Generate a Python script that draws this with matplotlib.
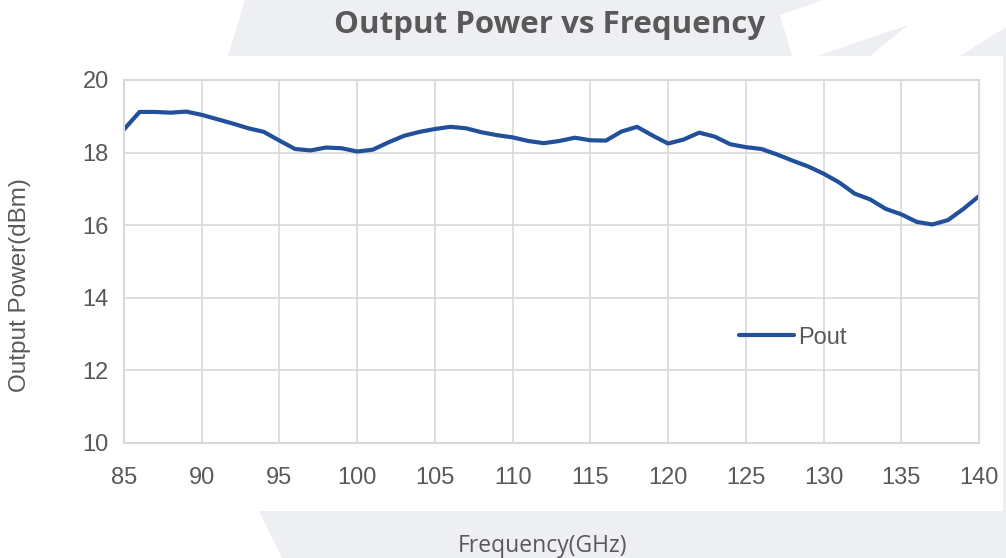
import matplotlib.pyplot as plt
from matplotlib.patches import Polygon
import numpy as np

freq = np.arange(85, 141)
pout = [18.64, 19.12, 19.12, 19.10, 19.13, 19.04, 18.92, 18.80, 18.67, 18.57,
        18.33, 18.10, 18.06, 18.14, 18.12, 18.03, 18.08, 18.28, 18.46, 18.57,
        18.65, 18.71, 18.67, 18.56, 18.48, 18.42, 18.32, 18.26, 18.32, 18.41,
        18.34, 18.33, 18.58, 18.71, 18.47, 18.25, 18.36, 18.55, 18.44, 18.23,
        18.15, 18.10, 17.95, 17.78, 17.62, 17.42, 17.18, 16.87, 16.71, 16.45,
        16.30, 16.09, 16.02, 16.14, 16.45, 16.80]
xticks = [85, 90, 95, 100, 105, 110, 115, 120, 125, 130, 135, 140]
yticks = [10, 12, 14, 16, 18, 20]

W, H = 1006, 558
text_color = "#595959"
bg_gray = "#eeeff3"

fig = plt.figure(figsize=(W / 100, H / 100), dpi=100)


def px(points):
    # pixel coords (y down) -> figure fraction
    return [(x / W, 1 - y / H) for x, y in points]


# decorative background shapes
shapes = [
    [(245, 0), (823, 0), (780, 15), (792, 56), (228, 56)],
    [(817, 56), (908, 25), (870, 56)],
    [(960, 56), (1006, 27), (1006, 56)],
    [(1003, 56), (1006, 56), (1006, 511), (1003, 511)],
    [(259, 511), (1006, 511), (1006, 558), (282, 558)],
]
for s in shapes:
    fig.patches.append(Polygon(px(s), closed=True, transform=fig.transFigure,
                               facecolor=bg_gray, edgecolor="none", zorder=0))

ax = fig.add_axes([124 / W, 1 - 443 / H, (979 - 124) / W, (443 - 80) / H])
ax.set_facecolor("white")

ax.plot(freq, pout, color="#22509a", linewidth=3.0, label="Pout",
        solid_capstyle="round", solid_joinstyle="round")

ax.set_xlim(85, 140)
ax.set_ylim(10, 20)
ax.set_xticks(xticks)
ax.set_yticks(yticks)
ax.grid(True, color="#d9d9d9", linewidth=1.2)
ax.set_axisbelow(True)
for sp in ax.spines.values():
    sp.set_color("#d9d9d9")
    sp.set_linewidth(1.5)
ax.tick_params(length=0, labelsize=17, labelcolor=text_color)
ax.tick_params(axis="x", pad=17)
ax.tick_params(axis="y", pad=11)
for lab in ax.get_xticklabels() + ax.get_yticklabels():
    lab.set_fontfamily("Liberation Sans")

fig.text(550 / W, 1 - 25 / H, "Output Power vs Frequency", ha="center", va="center",
         fontsize=22.5, fontweight="bold", color=text_color, family="Open Sans")
fig.text(20 / W, 1 - 285 / H, "Output Power(dBm)", ha="center", va="center",
         rotation=90, fontsize=17.5, color=text_color, family="Liberation Sans")
fig.text(543 / W, 1 - 546 / H, "Frequency(GHz)", ha="center", va="center",
         fontsize=16.5, color=text_color, family="Open Sans")

leg = ax.legend(loc="center left", bbox_to_anchor=(0.695, 0.29), frameon=False,
                handlelength=2.3, handletextpad=0.2,
                prop={"family": "Liberation Sans", "size": 17})
for t in leg.get_texts():
    t.set_color(text_color)

fig.savefig("out.png", dpi=100, facecolor="white")
